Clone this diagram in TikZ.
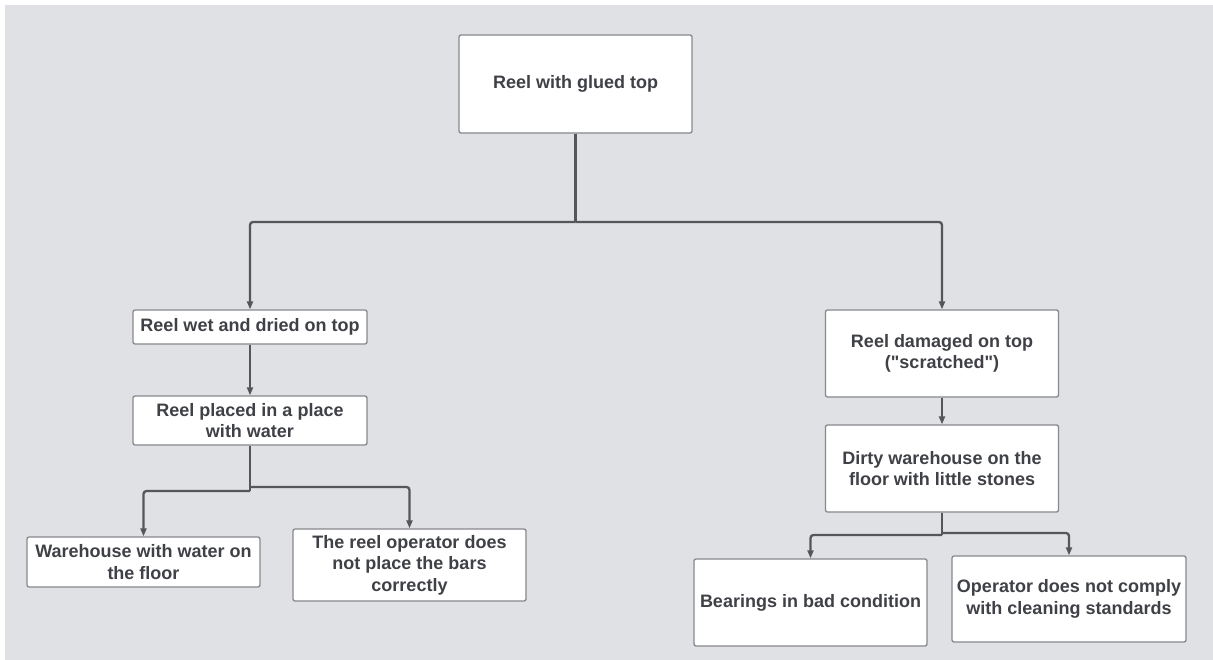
\documentclass[tikz,border=0pt]{standalone}
\usepackage{fontspec}
\setmainfont{Liberation Sans}[Ligatures=TeXOff]
\usetikzlibrary{arrows.meta}
\definecolor{canvas}{HTML}{DFE1E5}
\definecolor{boxline}{HTML}{86888C}
\definecolor{wire}{HTML}{54565A}
\definecolor{ink}{HTML}{3F4146}
\tikzset{
  cause/.style={draw=boxline, line width=1.3pt, rounded corners=2pt, fill=white,
    inner sep=0pt, align=center, text=ink,
    font=\fontsize{18}{21.5}\selectfont\bfseries},
  wirelink/.style={draw=wire, line width=2.3pt, rounded corners=3pt},
  tiplink/.style={wirelink, -{Triangle[length=8pt,width=6pt]}}
}
\begin{document}
\begin{tikzpicture}[x=1pt,y=-1pt]
  % page and canvas
  \useasboundingbox (0,0) rectangle (1213,660);
  \fill[white] (0,0) rectangle (1213,660);
  \fill[canvas] (5,5) rectangle (1213,660);

  % cause boxes
  \node[cause, minimum width=233pt, minimum height=98pt] (top) at (575.5,84) {Reel with glued top};
  \node[cause, minimum width=234pt, minimum height=34pt] (l1) at (250,327) {Reel wet and dried on top};
  \node[cause, minimum width=234pt, minimum height=49pt] (l2) at (250,420.5) {Reel placed in a place\\with water};
  \node[cause, minimum width=233pt, minimum height=50pt] (l3) at (143.5,562) {Warehouse with water on\\the floor};
  \node[cause, minimum width=233pt, minimum height=72pt] (l4) at (409.5,565) {The reel operator does\\not place the bars\\correctly};
  \node[cause, minimum width=233pt, minimum height=87pt] (r1) at (942,353.5) {Reel damaged on top\\("scratched")};
  \node[cause, minimum width=233pt, minimum height=87pt] (r2) at (942,468.5) {Dirty warehouse on the\\floor with little stones};
  \node[cause, minimum width=233pt, minimum height=87pt] (r3) at (810.5,602.5) {Bearings in bad condition};
  \node[cause, minimum width=234pt, minimum height=86pt] (r4) at (1069,599) {Operator does not comply\\with cleaning standards};

  % junction points of the branching connectors
  \coordinate (j0) at (575.5,222);
  \coordinate (jla) at (250,491);
  \coordinate (jlb) at (250,487);
  \coordinate (jra) at (942,535);
  \coordinate (jrb) at (942,533);

  % connectors
  \draw[wirelink] (top) -- (j0);
  \draw[tiplink] (j0) -| (l1);
  \draw[tiplink] (j0) -| (r1);
  \draw[tiplink] (l1) -- (l2);
  \draw[wirelink] (l2) -- (jla);
  \draw[tiplink] (jla) -| (l3);
  \draw[tiplink] (jlb) -| (l4);
  \draw[tiplink] (r1) -- (r2);
  \draw[wirelink] (r2) -- (jra);
  \draw[tiplink] (jra) -| (r3);
  \draw[tiplink] (jrb) -| (r4);
\end{tikzpicture}
\end{document}
